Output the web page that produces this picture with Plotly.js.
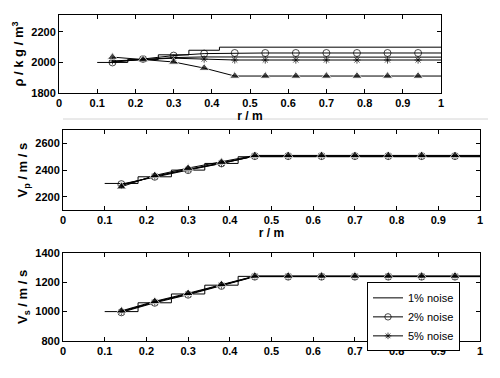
<!DOCTYPE html>
<html>
<head>
<meta charset="utf-8">
<script src="https://cdn.plot.ly/plotly-3.0.1.min.js"></script>
<style>html,body{margin:0;padding:0;background:#fff;}#chart{width:500px;height:378px;}</style>
</head>
<body>
<div id="chart"></div>
<script>
// ---- data ----
const stairEdges = [0.1, 0.18, 0.26, 0.34, 0.42, 1.0];
const rPts = [0.14, 0.22, 0.30, 0.38, 0.46, 0.54, 0.62, 0.70, 0.78, 0.86, 0.94, 1.0];

const rhoStair = [2000, 2020, 2050, 2080, 2100, 2100];
const rho1 = [2005, 2020, 2032, 2036, 2035, 2035, 2035, 2035, 2035, 2035, 2035, 2035];
const rho2 = [2000, 2022, 2045, 2058, 2062, 2062, 2062, 2062, 2062, 2062, 2062, 2062];
const rho5 = [2010, 2020, 2028, 2022, 2016, 2016, 2016, 2016, 2016, 2016, 2016, 2016];
const rhoT = [2035, 2018, 2003, 1963, 1911, 1911, 1911, 1911, 1911, 1911, 1911, 1911];

const vpStair = [2300, 2350, 2400, 2450, 2500, 2500];
const vp1 = [2290, 2352, 2405, 2453, 2505, 2505, 2505, 2505, 2505, 2505, 2505, 2505];
const vp2 = [2295, 2350, 2400, 2450, 2505, 2505, 2505, 2505, 2505, 2505, 2505, 2505];
const vp5 = [2285, 2355, 2405, 2450, 2505, 2505, 2505, 2505, 2505, 2505, 2505, 2505];
const vpT = [2275, 2360, 2415, 2460, 2510, 2510, 2510, 2510, 2510, 2510, 2510, 2510];

const vsStair = [1000, 1060, 1120, 1180, 1240, 1240];
const vs1 = [1000, 1065, 1120, 1180, 1240, 1240, 1240, 1240, 1240, 1240, 1240, 1240];
const vs2 = [995, 1060, 1115, 1175, 1238, 1238, 1238, 1238, 1238, 1238, 1238, 1238];
const vs5 = [1000, 1065, 1120, 1180, 1240, 1240, 1240, 1240, 1240, 1240, 1240, 1240];
const vsT = [1005, 1070, 1125, 1185, 1242, 1242, 1242, 1242, 1242, 1242, 1242, 1242];

const legendNames = ['1% noise', '2% noise', '5% noise'];

// ---- build ----
const sz = (s) => rPts.map((x, i) => i === rPts.length - 1 ? 0 : s);
function panel(n, stair, s1, s2, s5, sT, legend) {
  const xa = n === 1 ? 'x' : 'x' + n, ya = n === 1 ? 'y' : 'y' + n;
  const base = {xaxis: xa, yaxis: ya, mode: 'lines', line: {color: '#000', width: 1}};
  return [
    Object.assign({}, base, {x: stairEdges, y: stair, line: {color: '#000', width: 1, shape: 'hv'}, showlegend: false}),
    Object.assign({}, base, {x: rPts, y: s1, name: legendNames[0], showlegend: legend, legendrank: 1}),
    Object.assign({}, base, {x: rPts, y: s2, mode: 'lines+markers', name: legendNames[1], showlegend: legend, legendrank: 2,
      marker: {symbol: 'circle-open', size: sz(7), color: '#000', line: {width: 1, color: '#000'}}}),
    Object.assign({}, base, {x: rPts, y: s5, mode: 'lines+markers', name: legendNames[2], showlegend: legend, legendrank: 3,
      marker: {symbol: 'asterisk-open', size: sz(6), color: '#000', line: {width: 1, color: '#000'}}}),
    Object.assign({}, base, {x: rPts, y: sT, mode: 'lines+markers', showlegend: false,
      marker: {symbol: 'triangle-up', size: sz(9), color: '#000'}})
  ];
}
const data = [].concat(
  panel(1, rhoStair, rho1, rho2, rho5, rhoT, false),
  panel(2, vpStair, vp1, vp2, vp5, vpT, false),
  panel(3, vsStair, vs1, vs2, vs5, vsT, true)
);

const tf = {family: 'Liberation Sans, Arial, sans-serif', size: 11, color: '#000', weight: 700};
const titf = {family: 'Liberation Sans, Arial, sans-serif', size: 13, color: '#000', weight: 700};
function xax(dom, anchor, title) {
  return {domain: dom, anchor: anchor, range: [0, 1], dtick: 0.1, tick0: 0, ticks: 'inside', ticklen: 4,
    tickcolor: '#000', showline: true, linecolor: '#000', linewidth: 1, mirror: 'ticks',
    showgrid: false, zeroline: false, tickfont: tf, automargin: false,
    title: title ? {text: 'r / m', font: {family: titf.family, size: 12, color: '#000', weight: 700}, standoff: 3} : {text: ''}};
}
function yax(dom, anchor, range, title) {
  return {domain: dom, anchor: anchor, range: range, dtick: 200, ticks: 'inside', ticklen: 4,
    tickcolor: '#000', showline: true, linecolor: '#000', linewidth: 1, mirror: 'ticks',
    showgrid: false, zeroline: false, tickfont: tf, automargin: false,
    title: {text: title, font: titf, standoff: 4}};
}
const layout = {
  width: 500, height: 378, margin: {l: 0, r: 0, t: 0, b: 0},
  paper_bgcolor: '#fff', plot_bgcolor: '#fff', showlegend: true,
  xaxis: xax([0.118, 0.882], 'y', true),
  yaxis: yax([0.754, 0.960], 'x', [1800, 2310], 'ρ / k g / m<sup>3</sup>'),
  xaxis2: xax([0.126, 0.960], 'y2', true),
  yaxis2: yax([0.444, 0.656], 'x2', [2100, 2700], 'V<sub>p</sub> / m / s'),
  xaxis3: xax([0.126, 0.960], 'y3', false),
  yaxis3: yax([0.098, 0.331], 'x3', [800, 1400], 'V<sub>s</sub> / m / s'),
  legend: {x: 0.734, y: 0.253, xanchor: 'left', yanchor: 'top', bordercolor: '#000', borderwidth: 1,
    bgcolor: '#fff', font: {family: 'Liberation Sans, Arial, sans-serif', size: 11, color: '#000'},
    traceorder: 'normal', itemwidth: 30},
  shapes: [{type: 'line', xref: 'paper', yref: 'paper', x0: 0.126, x1: 0.976, y0: 1 - 119/378, y1: 1 - 119/378,
    line: {color: '#d4d4d4', width: 1}}]
};
Plotly.newPlot('chart', data, layout, {staticPlot: true, displayModeBar: false});
</script>
</body>
</html>
